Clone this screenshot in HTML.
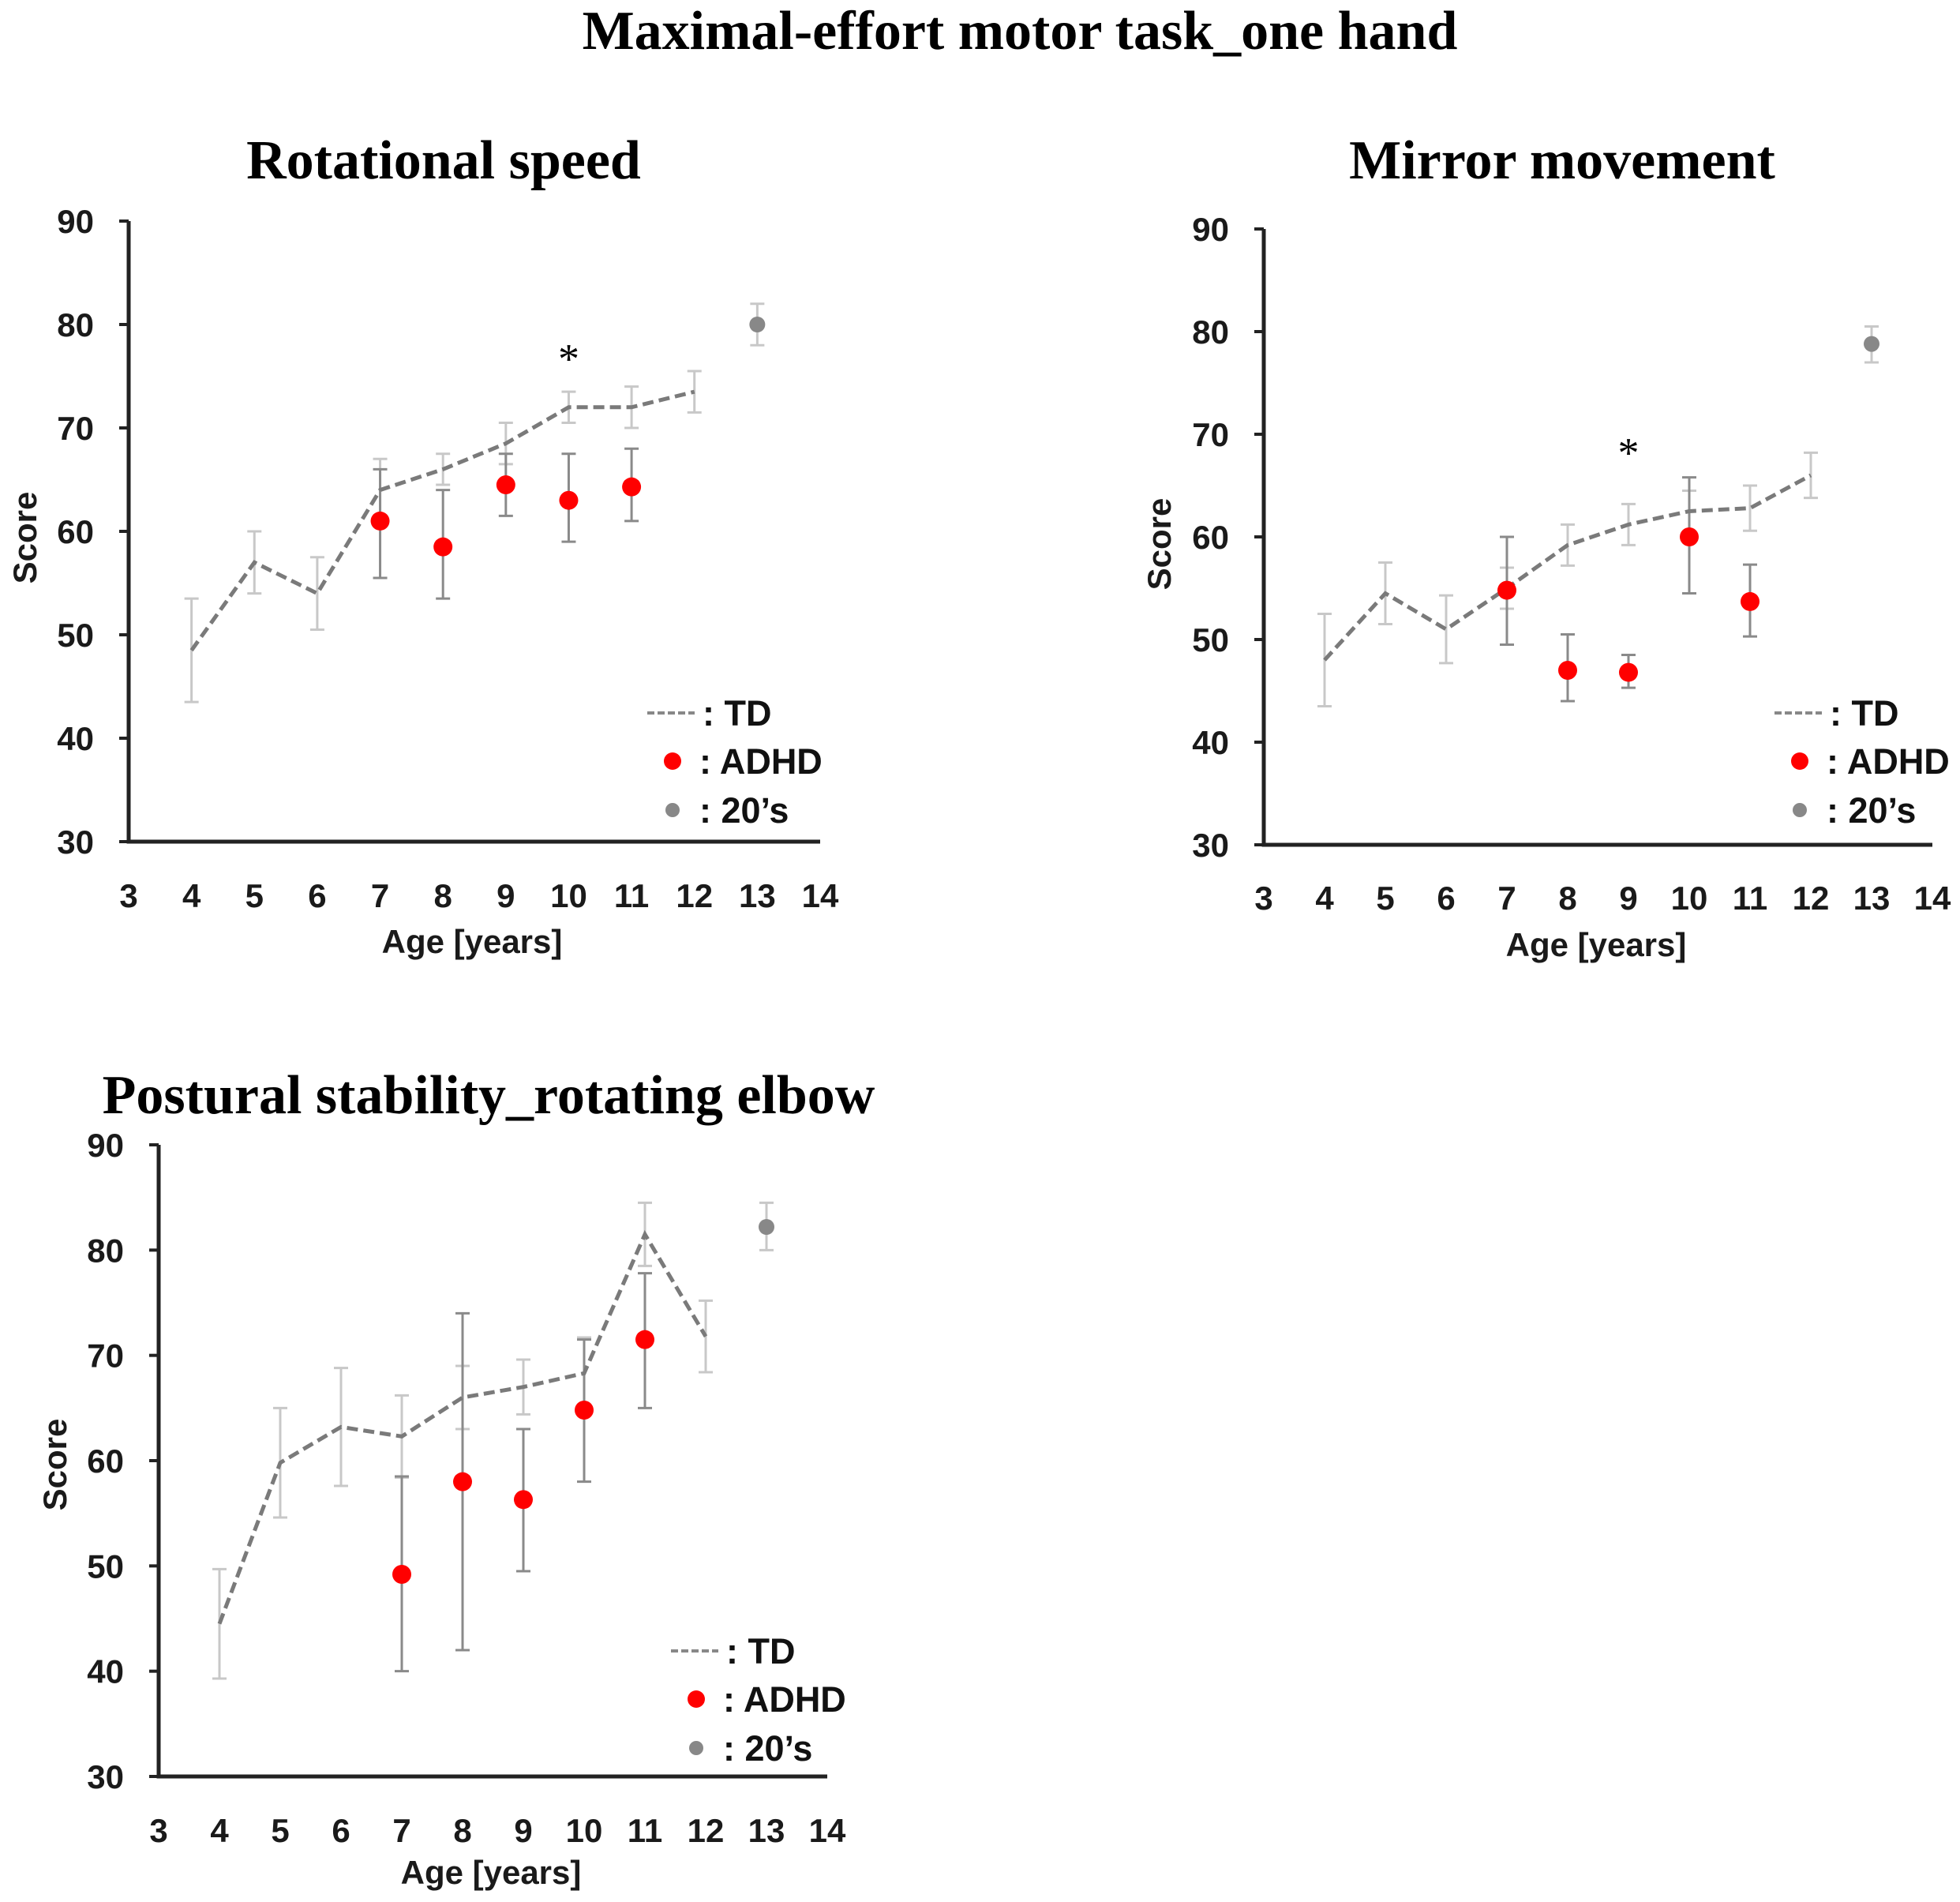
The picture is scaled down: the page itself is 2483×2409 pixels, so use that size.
<!DOCTYPE html>
<html><head><meta charset="utf-8"><style>
html,body{margin:0;padding:0;background:#fff;}
svg{display:block;}
.tick{font-family:"Liberation Sans",sans-serif;font-weight:bold;font-size:42px;fill:#1a1a1a;}
.ttl{font-family:"Liberation Serif",serif;font-weight:bold;fill:#000;}
.leg{font-family:"Liberation Sans",sans-serif;font-weight:bold;font-size:45px;fill:#111;}
</style></head><body>
<svg id="fig" width="2483" height="2409" viewBox="0 0 2483 2409" xmlns="http://www.w3.org/2000/svg">
<text class="ttl" x="1292" y="62" font-size="70" text-anchor="middle">Maximal-effort motor task_one hand</text>
</svg>
<script>
const ages = [4,5,6,7,8,9,10,11,12];
const adhdAges = [7,8,9,10,11];
const xTicks = [3,4,5,6,7,8,9,10,11,12,13,14];
const yTicks = [30,40,50,60,70,80,90];

const rotTD = [48.5,57,54,64,66,68.5,72,72,73.5];
const rotTDErr = [5,3,3.5,3,1.5,2,1.5,2,2];
const rotADHD = [61,58.5,64.5,63,64.3];
const rotADHDlo = [55.5,53.5,61.5,59,61];
const rotADHDhi = [66,64,67.5,67.5,68];
const rot20 = [80,78,82];

const mirTD = [48,54.5,51,55,59.2,61.2,62.5,62.8,66];
const mirTDErr = [4.5,3,3.3,2,2,2,2,2.2,2.2];
const mirADHD = [54.8,47,46.8,60,53.7];
const mirADHDlo = [49.5,44,45.3,54.5,50.3];
const mirADHDhi = [60,50.5,48.5,65.8,57.3];
const mir20 = [78.8,77,80.5];

const posTD = [44.5,59.8,63.2,62.3,66,67,68.3,81.5,71.8];
const posTDErr = [5.2,5.2,5.6,3.9,3,2.6,3.4,3,3.4];
const posADHD = [49.2,58,56.3,64.8,71.5];
const posADHDlo = [40,42,49.5,58,65];
const posADHDhi = [58.5,74,63,71.5,77.8];
const pos20 = [82.2,80,84.5];

const NS='http://www.w3.org/2000/svg';
const svg=document.getElementById('fig');
function mk(tag,attrs,parent){const e=document.createElementNS(NS,tag);for(const k in attrs)e.setAttribute(k,attrs[k]);(parent||svg).appendChild(e);return e;}

function chart(c){
  const g=mk('g',{});
  
  
  const X=v=>c.x0+(v-3)*(c.x1-c.x0)/11;
  const Y=v=>c.y30+(v-30)*(c.y90-c.y30)/60;
  const t=mk('text',{class:'ttl',x:c.tx,y:c.ty,'font-size':70,'text-anchor':'middle'},g);t.textContent=c.title;
  
  
  const ax=mk('path',{d:`M${c.x0} ${Y(90)} V${c.y30} H${X(14)}`,stroke:'#222','stroke-width':5,fill:'none'},g);
  
  
  yTicks.forEach(v=>{
    mk('line',{x1:c.x0-12,x2:c.x0,y1:Y(v),y2:Y(v),stroke:'#222','stroke-width':4},g);
    const l=mk('text',{class:'tick',x:c.x0-44,y:Y(v)+15,'text-anchor':'end'},g);l.textContent=v;
    
    
  });
  xTicks.forEach(v=>{
    const l=mk('text',{class:'tick',x:X(v),y:c.xly+2,'text-anchor':'middle'},g);l.textContent=v;
    
    
  });
  const xt=mk('text',{class:'tick',x:c.xtx,y:c.xty+2,'text-anchor':'middle'},g);xt.textContent='Age [years]';
  
  
  const yt=mk('text',{class:'tick',x:0,y:0,'text-anchor':'middle',transform:`translate(${c.ytx+2},${c.yty}) rotate(-90)`},g);yt.textContent='Score';
  
  
  ages.forEach((a,i)=>{
    const lo=Y(c.td[i]-c.tdErr[i]),hi=Y(c.td[i]+c.tdErr[i]),x=X(a);
    const e=mk('path',{d:`M${x} ${lo}V${hi}M${x-9} ${lo}H${x+9}M${x-9} ${hi}H${x+9}`,stroke:'#c8c8c8','stroke-width':3,fill:'none'},g);
    
    
  });
  adhdAges.forEach((a,i)=>{
    const lo=Y(c.lo[i]),hi=Y(c.hi[i]),x=X(a);
    const e=mk('path',{d:`M${x} ${lo}V${hi}M${x-9} ${lo}H${x+9}M${x-9} ${hi}H${x+9}`,stroke:'#8a8a8a','stroke-width':3,fill:'none'},g);
    
    
  });
  const ln=mk('polyline',{points:ages.map((a,i)=>X(a)+','+Y(c.td[i])).join(' '),stroke:'#7a7a7a','stroke-width':5,fill:'none','stroke-dasharray':'14,7'},g);
  
  
  adhdAges.forEach((a,i)=>{
    const p=mk('circle',{cx:X(a),cy:Y(c.adhd[i]),r:12,fill:'#ff0000'},g);
    
    
  });
  const x13=X(13);
  const e2=mk('path',{d:`M${x13} ${Y(c.a20[1])}V${Y(c.a20[2])}M${x13-9} ${Y(c.a20[1])}H${x13+9}M${x13-9} ${Y(c.a20[2])}H${x13+9}`,stroke:'#c8c8c8','stroke-width':3,fill:'none'},g);
  
  
  const p2=mk('circle',{cx:x13,cy:Y(c.a20[0]),r:10,fill:'#888'},g);
  
  
  if(c.star){
    const s=mk('text',{x:X(c.star[0]),y:Y(c.star[1])+22,'font-size':54,'text-anchor':'middle','font-family':'"Liberation Serif",serif',fill:'#000'},g);s.textContent='*';
    
    
  }
  const L=c.leg;
  const lg=mk('g',{},g);
  
  
  mk('line',{x1:L[0],x2:L[0]+60,y1:L[1],y2:L[1],stroke:'#888','stroke-width':4,'stroke-dasharray':'9,4'},lg);
  let tt=mk('text',{class:'leg',x:L[0]+70,y:L[1]+16},lg);tt.textContent=': TD';
  mk('circle',{cx:L[0]+32,cy:L[1]+61,r:11,fill:'#ff0000'},lg);
  tt=mk('text',{class:'leg',x:L[0]+66,y:L[1]+77},lg);tt.textContent=': ADHD';
  mk('circle',{cx:L[0]+32,cy:L[1]+123,r:9,fill:'#888'},lg);
  tt=mk('text',{class:'leg',x:L[0]+66,y:L[1]+139},lg);tt.textContent=': 20\u2019s';
}

chart({name:'rotational-speed-chart',title:'Rotational speed',tx:562,ty:226,x0:163,x1:1039,y90:280,y30:1066,xly:1147,xtx:598,xty:1205,ytx:44,yty:681,
  td:rotTD,tdErr:rotTDErr,adhd:rotADHD,lo:rotADHDlo,hi:rotADHDhi,a20:rot20,star:[10,77],leg:[820,903]});
chart({name:'mirror-movement-chart',title:'Mirror movement',tx:1979,ty:226,x0:1601,x1:2448,y90:290,y30:1070,xly:1150,xtx:2022,xty:1209,ytx:1481,yty:689,
  td:mirTD,tdErr:mirTDErr,adhd:mirADHD,lo:mirADHDlo,hi:mirADHDhi,a20:mir20,star:[9,68.5],leg:[2248,903]});
chart({name:'postural-stability-chart',title:'Postural stability_rotating elbow',tx:619,ty:1410,x0:201,x1:1048,y90:1450,y30:2250,xly:2331,xtx:622,xty:2384,ytx:82,yty:1855,
  td:posTD,tdErr:posTDErr,adhd:posADHD,lo:posADHDlo,hi:posADHDhi,a20:pos20,star:null,leg:[850,2091]});
</script>
</body></html>
